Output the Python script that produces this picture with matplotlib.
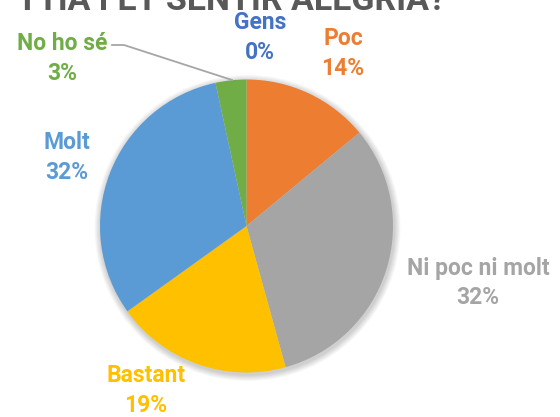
import matplotlib.pyplot as plt
from matplotlib.patches import Circle

# Dades
categories = ['Gens', 'Poc', 'Ni poc ni molt', 'Bastant', 'Molt', 'No ho sé']
percentatges = [0, 14.0, 31.7, 19.4, 31.5, 3.4]
colors = ['#4472C4', '#ED7D31', '#A5A5A5', '#FFC000', '#5B9BD5', '#70AD47']
titol = "T'HA FET SENTIR ALEGRIA?"

plt.rcParams['font.family'] = ['Roboto', 'DejaVu Sans']

H = 417
fig = plt.figure(figsize=(5.6, 4.17), dpi=100)
ax = fig.add_axes([0, 0, 1, 1])

cx, cy, r = 246.5, H - 226, 146.5

# ombra suau
for k in range(8):
    ax.add_patch(Circle((cx + 1, cy - 2), r + 1 + k * 0.8, color='black',
                        alpha=0.022, lw=0, zorder=0))

ax.pie(percentatges, colors=colors, startangle=90, counterclock=False,
       center=(cx, cy), radius=r, frame=True,
       wedgeprops=dict(linewidth=0, zorder=2))

# posicions de les etiquetes (centre de la primera línia)
pos = [(260, 22), (343, 38), (478, 268), (146, 376), (67, 142), (62, 43)]
for cat, val, col, (x, y) in zip(categories, percentatges, colors, pos):
    ax.text(x, H - y, cat, color=col, fontsize=16.5, fontweight='bold',
            ha='center', va='center')
    ax.text(x, H - y - 30, f'{val:.0f}%', color=col, fontsize=16.5,
            fontweight='bold', ha='center', va='center')

# línia guia de "No ho sé"
ax.plot([112, 124, 232], [H - 45, H - 45, H - 80], color='#A6A6A6', lw=1.3, zorder=3)

# títol (tallat a dalt)
ax.text(17, H - 10, titol, color='#595959', fontsize=24.5, fontweight='bold',
        ha='left', va='baseline')

ax.set_xlim(0, 560)
ax.set_ylim(0, H)
ax.set_aspect('auto')
ax.axis('off')

fig.savefig('out.png', dpi=100)
